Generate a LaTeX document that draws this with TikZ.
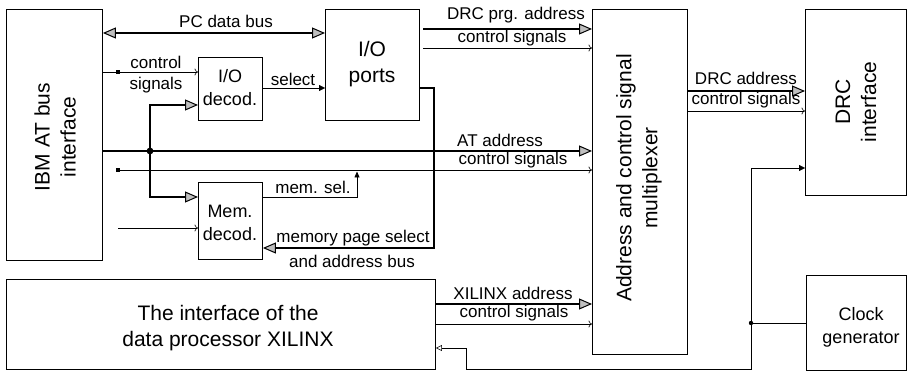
\documentclass[tikz,border=0pt]{standalone}
\usepackage{fontspec}
\setmainfont{Liberation Sans}
\usetikzlibrary{arrows.meta}
\tikzset{
  bt/.tip={Triangle[length=13pt,width=11pt,fill=gray!50,line width=1pt]},
  st/.tip={Triangle[length=6pt,width=6pt,fill=black,line width=0.4pt]},
  ot/.tip={Triangle[length=6pt,width=6pt,fill=white,line width=0.6pt]},
  bb/.tip={To[length=3.5pt,width=7pt,line width=0.6pt]},
}
\begin{document}
\begin{tikzpicture}[x=1pt,y=-1pt,
  blk/.style={draw, line width=0.9pt, anchor=north west, inner sep=0pt},
  ttl/.style={font=\fontsize{21}{26}\selectfont, align=center, inner sep=0pt},
  mid/.style={font=\fontsize{18}{23}\selectfont, align=center, inner sep=0pt},
  lbl/.style={font=\fontsize{17}{20}\selectfont, inner sep=0pt},
  bus/.style={line width=2.8pt, -bt},
  sig/.style={line width=0.8pt, -bb},
  wire/.style={line width=0.8pt},
]
\useasboundingbox (0,0) rectangle (907,371);

% functional blocks
\node[blk, minimum width=96pt,  minimum height=251pt] (ibm)    at (6,9)   {};
\node[blk, minimum width=64pt,  minimum height=63pt]  (iodec)  at (198,57) {};
\node[blk, minimum width=94pt,  minimum height=111pt] (ioport) at (325,9)  {};
\node[blk, minimum width=64pt,  minimum height=77pt]  (memdec) at (198,182) {};
\node[blk, minimum width=95pt,  minimum height=345pt] (mux)    at (592,9)  {};
\node[blk, minimum width=101pt, minimum height=186pt] (drc)    at (805,9)  {};
\node[blk, minimum width=100pt, minimum height=95pt]  (clk)    at (806,275) {};
\node[blk, minimum width=429pt, minimum height=90pt]  (xil)    at (6,279)  {};

% block titles
\node[ttl, rotate=90] (ibmT) at (55,137) {IBM AT bus\\interface};
\node[mid] (iodecT) at (230,88) {I/O\\decod.};
\node[ttl] (ioportT) at (372,64) {I/O\\ports};
\node[mid] (memdecT) at (230,223) {Mem.\\decod.};
\node[ttl, rotate=90] (muxT) at (639,178) {Address and control signal\\multiplexer};
\node[ttl, rotate=90] (drcT) at (856,102) {DRC\\interface};
\node[mid] (clkT) at (861,327) {Clock\\generator};
\node[ttl] (xilT) at (228,328) {The interface of the\\data processor XILINX};

% junctions
\coordinate (jat) at (150,151);
\coordinate (sq1) at (118,72);
\coordinate (sq2) at (118,170);
\coordinate (jclk) at (751,323);

% PC data bus
\draw[line width=2.8pt, bt-bt] (ibm.east |- 0,33) -- (ioport.west |- 0,33);
\node[lbl] (pcL) at (226,21) {PC data bus};

% control signals into the I/O decoder
\draw[wire] (ibm.east |- sq1) -- (sq1);
\draw[sig] (sq1) -- (iodec.west |- sq1);
\node[lbl] (ctl1a) at (156,62) {control};
\node[lbl] (ctl1b) at (156,85) {signals};

% select
\draw[wire, -st] (iodec.east |- 0,88) -- (ioport.west |- 0,88);
\node[lbl] (selL) at (293,79) {select};

% AT address bus and its branches
\draw[bus] (ibm.east |- jat) -- (mux.west |- jat);
\node[lbl] (atL) at (500,140) {AT address};
\draw[line width=2.8pt, -bt] (jat) -- (150,105) -- (iodec.west |- 0,105);
\draw[line width=2.8pt, -bt] (jat) -- (150,197) -- (memdec.west |- 0,197);
\fill (jat) circle (3.4pt);

% control signals to the multiplexer
\draw[sig] (sq2) -- (mux.west |- sq2);
\node[lbl] (ctl2) at (513,160) {control signals};
\fill (sq1) ++(-2.2,-2.2) rectangle ++(4.4,4.4);
\fill (sq2) ++(-2.2,-2.2) rectangle ++(4.4,4.4);

% further control input of the memory decoder
\draw[sig] (118,228) -- (memdec.west |- 0,228);

% memory select
\draw[wire, -{Triangle[length=6pt,width=5pt,fill=black]}] (memdec.east |- 0,197) -- (357,197) -- (357,171.5);
\node[lbl] (msL) at (313,187) {mem. sel.};

% memory page select and address bus
\draw[line width=2.8pt, -bt] (ioport.east |- 0,88) -- (434,88) -- (434,248) -- (memdec.east |- 0,248);
\node[lbl] (mpL) at (353,238) {memory page select};
\node[lbl] (abL) at (352,261) {and address bus};

% DRC program address
\draw[bus] (423,29) -- (mux.west |- 0,29);
\node[lbl] (dpL) at (516,15) {DRC prg. address};
\draw[sig] (423,48) -- (mux.west |- 0,48);
\node[lbl] (ctl3) at (512,38) {control signals};

% DRC address
\draw[bus] (mux.east |- 0,91) -- (drc.west |- 0,91);
\node[lbl] (daL) at (746,78) {DRC address};
\draw[sig] (mux.east |- 0,111) -- (drc.west |- 0,111);
\node[lbl] (ctl4) at (746,100) {control signals};

% XILINX address
\draw[bus] (xil.east |- 0,304) -- (mux.west |- 0,304);
\node[lbl] (xaL) at (513,293) {XILINX address};
\draw[sig] (xil.east |- 0,324) -- (mux.west |- 0,324);
\node[lbl] (ctl5) at (514,313) {control signals};

% clock distribution
\draw[wire] (clk.west |- jclk) -- (jclk);
\draw[wire, -st] (jclk) -- (751,168) -- (drc.west |- 0,168);
\draw[wire, -ot] (jclk) -- (751,369) -- (466,369) -- (466,348) -- (xil.east |- 0,348);
\fill (jclk) circle (2.2pt);
\end{tikzpicture}
\end{document}
